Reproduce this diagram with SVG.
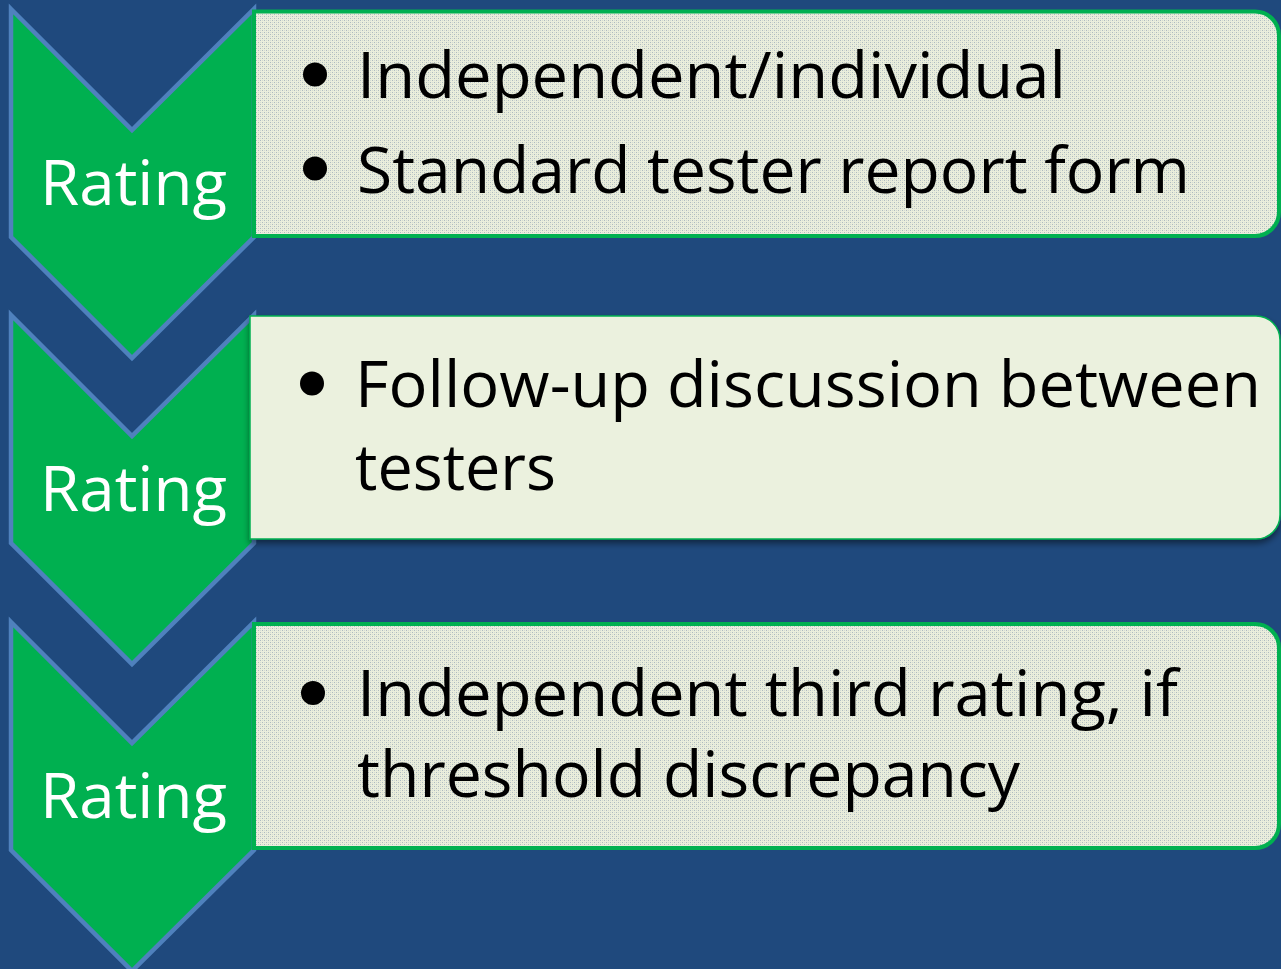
<svg xmlns="http://www.w3.org/2000/svg" width="1281" height="969" viewBox="0 0 1281 969">
<defs>
<pattern id="tex" width="4" height="4" patternUnits="userSpaceOnUse">
<rect width="4" height="4" fill="#EAEEDC"/>
<rect x="0" y="0" width="1" height="1" fill="#AEBAC0"/>
<rect x="2" y="2" width="1" height="1" fill="#AEBAC0"/>
<rect x="2" y="0" width="1" height="1" fill="#D3DAD2"/>
<rect x="0" y="2" width="1" height="1" fill="#D3DAD2"/>
</pattern>
<filter id="shadow" x="-5%" y="-10%" width="110%" height="130%">
<feDropShadow dx="0" dy="4" stdDeviation="3" flood-color="#000" flood-opacity="0.45"/>
</filter>
<path id="chev" d="M11,9 L132,130 L254,9 L254,237 L132,358 L11,237 Z"/>
</defs>
<style>
.chev{fill:#00B050;stroke:#4F81BD;stroke-width:4.5;stroke-linejoin:miter}
.lbl{font-family:"Open Sans","Noto Sans","Liberation Sans",sans-serif;font-size:62px;fill:#FFFFFF}
.txt{font-family:"Open Sans","Noto Sans","Liberation Sans",sans-serif;font-size:64px;fill:#000000}
.boxT{fill:url(#tex);stroke:#00B050;stroke-width:4}
.boxP{fill:#EBF1DE;stroke:#00B050;stroke-width:1.5}
</style>
<rect width="1281" height="969" fill="#1F497D"/>

<g id="chevron1">
<use href="#chev" class="chev"/>
<text class="lbl" x="40" y="205" textLength="187" lengthAdjust="spacingAndGlyphs">Rating</text>
</g>
<g id="chevron2" transform="translate(0,306)">
<use href="#chev" class="chev"/>
<text class="lbl" x="40" y="205" textLength="187" lengthAdjust="spacingAndGlyphs">Rating</text>
</g>
<g id="chevron3" transform="translate(0,613)">
<use href="#chev" class="chev"/>
<text class="lbl" x="40" y="205" textLength="187" lengthAdjust="spacingAndGlyphs">Rating</text>
</g>

<g id="box1">
<path class="boxT" d="M254,11.5 H1255 A24,24 0 0 1 1279,35.5 V212 A24,24 0 0 1 1255,236 H254 Z"/>
<circle cx="315" cy="74.5" r="12"/>
<text class="txt" x="357" y="98" textLength="709" lengthAdjust="spacingAndGlyphs">Independent/individual</text>
<circle cx="315" cy="168.5" r="12"/>
<text class="txt" x="357" y="193" textLength="833" lengthAdjust="spacingAndGlyphs">Standard tester report form</text>
</g>

<g id="box2">
<path class="boxP" filter="url(#shadow)" d="M250,316 H1256 A24,24 0 0 1 1280,340 V515 A24,24 0 0 1 1256,539 H250 Z"/>
<circle cx="312" cy="383.5" r="12"/>
<text class="txt" x="355" y="407" textLength="906" lengthAdjust="spacingAndGlyphs">Follow-up discussion between</text>
<text class="txt" x="355" y="490" textLength="201" lengthAdjust="spacingAndGlyphs">testers</text>
</g>

<g id="box3">
<path class="boxT" d="M254,624 H1255 A24,24 0 0 1 1279,648 V824 A24,24 0 0 1 1255,848 H254 Z"/>
<circle cx="313" cy="693" r="12"/>
<text class="txt" x="357" y="716" textLength="821" lengthAdjust="spacingAndGlyphs">Independent third rating, if</text>
<text class="txt" x="357" y="797" textLength="663" lengthAdjust="spacingAndGlyphs">threshold discrepancy</text>
</g>

<g id="connectors"></g>
</svg>
